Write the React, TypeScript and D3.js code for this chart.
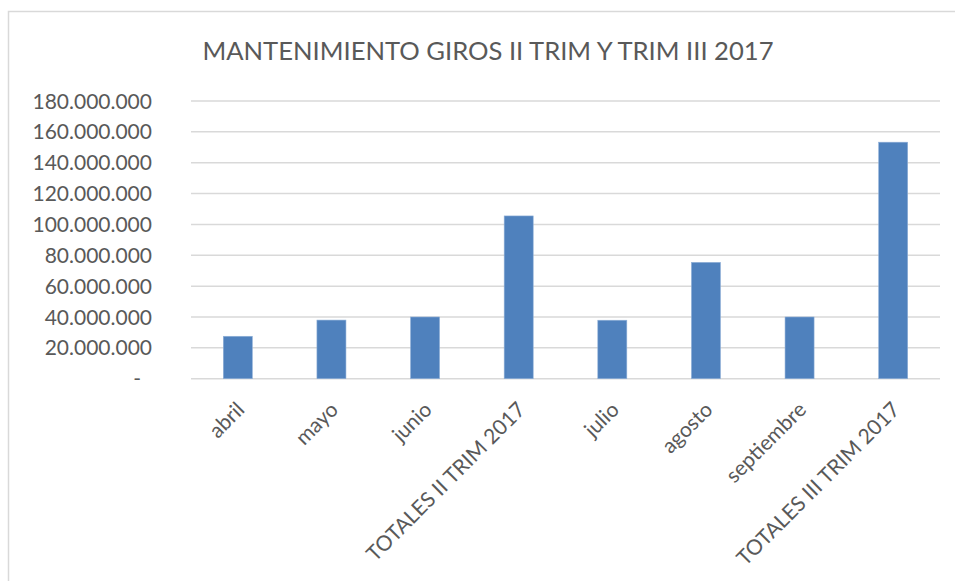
import React from "react";
import * as d3 from "d3";

const categories = [
  "abril",
  "mayo",
  "junio",
  "TOTALES II TRIM 2017",
  "julio",
  "agosto",
  "septiembre",
  "TOTALES III TRIM 2017",
];
const values = [27500000, 38000000, 40000000, 105500000, 37900000, 75400000, 40000000, 153300000];
const yTicks = [0, 20000000, 40000000, 60000000, 80000000, 100000000, 120000000, 140000000, 160000000, 180000000];
const title = "MANTENIMIENTO GIROS II TRIM Y TRIM III 2017";

const W = 955;
const H = 581;
const plot = { left: 191, right: 940, top: 101, bottom: 378.7 };
const FONT = "Lato, 'Open Sans', sans-serif";
const TEXT = "#595959";

const locale = d3.formatLocale({ decimal: ",", thousands: ".", grouping: [3], currency: ["", ""] });
const fmt = locale.format(",d");

export default function App() {
  const x = d3
    .scaleBand<string>()
    .domain(categories)
    .range([plot.left, plot.right])
    .paddingInner(0.69)
    .paddingOuter(0.345);
  const y = d3.scaleLinear().domain([0, 180000000]).range([plot.bottom, plot.top]);

  return (
    <svg width={W} height={H} style={{ position: "absolute", left: 0, top: 0, background: "#fff" }}>
      <rect x={8.5} y={11.5} width={1000} height={700} fill="#fff" stroke="#d9d9d9" strokeWidth={1.5} />
      <text x={488} y={60} textAnchor="middle" fontFamily={FONT} fontSize={25.6} fill={TEXT}>
        {title}
      </text>
      {yTicks.map((t) => (
        <g key={t}>
          <line x1={plot.left} x2={plot.right} y1={y(t)} y2={y(t)} stroke="#d9d9d9" strokeWidth={1.5} />
          <text
            x={t === 0 ? 141 : 152}
            y={y(t)}
            dy="0.36em"
            textAnchor="end"
            fontFamily={FONT}
            fontSize={21}
            fill={TEXT}
          >
            {t === 0 ? "-" : fmt(t)}
          </text>
        </g>
      ))}
      {categories.map((c, i) => (
        <rect
          key={c}
          x={x(c)}
          y={y(values[i])}
          width={x.bandwidth()}
          height={y(0) - y(values[i])}
          fill="#4f81bd"
          stroke="#8fb0d8"
          strokeWidth={0.6}
        />
      ))}
      {categories.map((c) => {
        const cx = (x(c) as number) + x.bandwidth() / 2 + 8;
        const cy = 411;
        return (
          <text
            key={c}
            x={cx}
            y={cy}
            textAnchor="end"
            transform={`rotate(-45 ${cx} ${cy})`}
            fontFamily={FONT}
            fontSize={21}
            fill={TEXT}
          >
            {c}
          </text>
        );
      })}
    </svg>
  );
}
